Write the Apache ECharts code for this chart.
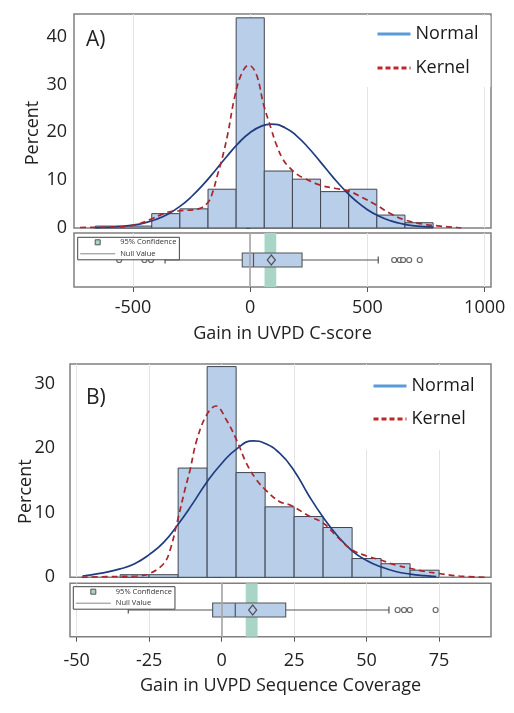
<!DOCTYPE html>
<html><head><meta charset="utf-8">
<script src="https://cdn.jsdelivr.net/npm/echarts@6/dist/echarts.min.js"></script>
<style>html,body{margin:0;padding:0;background:#fff}#c{width:514px;height:713px}</style>
</head><body><div id="c"></div>
<script>
// ---------- Panel A: Gain in UVPD C-score ----------
const binWidthA = 120;
const binCentersA = [-600, -480, -360, -240, -120, 0, 120, 240, 360, 480, 600, 720];
const percentA = [0.4, 0.4, 3.0, 4.0, 8.1, 43.9, 11.9, 10.2, 7.6, 8.1, 2.7, 1.1];
const normalXA = [-665, -600, -550, -500, -450, -400, -350, -300, -250, -200, -150, -100, -50, 0, 50, 90, 150, 200, 250, 300, 350, 400, 450, 500, 550, 600, 650, 700, 780];
const normalYA = [0.07, 0.16, 0.32, 0.59, 1.07, 1.82, 2.94, 4.51, 6.58, 9.10, 11.97, 14.94, 17.72, 19.96, 21.34, 21.7, 20.91, 19.15, 16.66, 13.76, 10.79, 8.04, 5.69, 3.82, 2.44, 1.48, 0.85, 0.46, 0.17];
const kernelXA = [-726, -600, -541, -480, -425, -380, -342, -299, -214, -178, -160, -140, -120, -96, -67, -38, -6, 26, 57, 90, 110, 140, 168, 200, 225, 296, 360, 417, 480, 538, 595, 659, 738, 809, 880, 900];
const kernelYA = [0.1, 0.2, 0.3, 0.8, 1.8, 2.8, 3.4, 3.6, 4.1, 5.5, 7.5, 11.0, 14.5, 19.6, 27.2, 32.1, 34.0, 32.1, 25.8, 20.6, 17.6, 14.3, 12.6, 11.2, 10.5, 9.0, 8.3, 7.8, 6.3, 4.8, 3.1, 1.7, 0.8, 0.4, 0.1, 0.0];
const boxA = [-363, -34, 14, 221, 546];   // whisker low, Q1, median, Q3, whisker high
const meanA = 90;
const ciA = [61, 111];
const outliersA = [-559, -451, -423, 614, 638, 652, 678, 723];
const ticksA = [-500, 0, 500, 1000];

// ---------- Panel B: Gain in UVPD Sequence Coverage ----------
const binWidthB = 10;
const binCentersB = [-30, -20, -10, 0, 10, 20, 30, 40, 50, 60, 70];
const percentB = [0.4, 0.4, 16.9, 32.6, 16.2, 10.9, 9.4, 7.7, 2.9, 2.1, 1.1];
const normalXB = [-48, -42, -35, -30, -25, -20, -15, -10, -5, 0, 5, 10.9, 15, 20, 25, 30, 35, 40, 45, 50, 55, 60, 65, 70, 74];
const normalYB = [0.2, 0.6, 1.3, 2.1, 3.5, 5.4, 8.2, 11.4, 14.8, 17.6, 19.8, 21.1, 20.7, 19.2, 16.5, 12.7, 9.3, 6.4, 4.1, 2.6, 1.6, 0.9, 0.5, 0.25, 0.12];
const kernelXB = [-48.3, -40, -29.3, -25, -20, -17.8, -15.3, -12.7, -10.9, -8.6, -5.2, -2, 1.7, 5.2, 8.6, 12, 15.2, 20, 23.6, 30.5, 35, 40, 44.8, 50, 54.6, 60, 64.9, 70, 74.7, 82, 91.4];
const kernelYB = [0.0, 0.1, 0.2, 0.55, 2.1, 4.2, 8.6, 13.5, 16.6, 21.2, 25.1, 26.5, 24.3, 21.2, 17.6, 15.1, 13.5, 11.7, 11.2, 9.4, 8.4, 6.2, 4.3, 3.3, 2.7, 1.9, 1.4, 0.9, 0.6, 0.2, 0.0];
const boxB = [-32.2, -3.1, 4.7, 22.1, 57.7];
const meanB = 10.7;
const ciB = [8.3, 12.4];
const outliersB = [60.7, 62.9, 64.9, 73.8];
const ticksB = [-50, -25, 0, 25, 50, 75];

// ---------- styling ----------
const FONT = 'Open Sans';
const BAR_FILL = '#b9cee8';
const BAR_STROKE = '#3f4552';
const NORMAL_C = '#1f3c80';
const KERNEL_C = '#a8262c';
const FRAME_C = '#808080';
const GRID_C = '#e4e4e4';
const CI_C = '#a9d5c6';
const NULL_C = '#a6a6a6';

function histItem(w) {
  return function (params, api) {
    const c = api.value(0), v = api.value(1);
    const a = api.coord([c - w / 2, v]);
    const b = api.coord([c + w / 2, 0]);
    return { type: 'rect', shape: { x: a[0], y: a[1], width: b[0] - a[0], height: b[1] - a[1] },
      style: { fill: BAR_FILL, stroke: BAR_STROKE, lineWidth: 1 } };
  };
}
function boxItem(params, api) {
  const p = i => api.coord([api.value(i), 0]);
  const lo = p(0), q1 = p(1), md = p(2), q3 = p(3), hi = p(4);
  const cy = lo[1], h = 14, cap = 7;
  const ls = { stroke: '#555', lineWidth: 1.2 };
  return { type: 'group', children: [
    { type: 'line', shape: { x1: lo[0], y1: cy, x2: q1[0], y2: cy }, style: ls },
    { type: 'line', shape: { x1: q3[0], y1: cy, x2: hi[0], y2: cy }, style: ls },
    { type: 'line', shape: { x1: lo[0], y1: cy - cap / 2, x2: lo[0], y2: cy + cap / 2 }, style: ls },
    { type: 'line', shape: { x1: hi[0], y1: cy - cap / 2, x2: hi[0], y2: cy + cap / 2 }, style: ls },
    { type: 'rect', shape: { x: q1[0], y: cy - h / 2, width: q3[0] - q1[0], height: h }, style: { fill: BAR_FILL, stroke: '#555', lineWidth: 1.1 } },
    { type: 'line', shape: { x1: md[0], y1: cy - h / 2, x2: md[0], y2: cy + h / 2 }, style: ls }
  ] };
}
function ciItem(params, api) {
  const a = api.coord([api.value(0), 0]), b = api.coord([api.value(1), 0]);
  const cs = params.coordSys;
  return { type: 'rect', shape: { x: a[0], y: cs.y, width: b[0] - a[0], height: cs.height }, style: { fill: CI_C } };
}
const zip = (xs, ys) => xs.map((x, i) => [x, ys[i]]);

function histXAxis(idx, min, max, ticks) {
  return { type: 'value', gridIndex: idx, min: min, max: max,
    axisLine: { show: false }, axisLabel: { show: false },
    axisTick: { show: false, customValues: ticks },
    splitLine: { show: true, lineStyle: { color: GRID_C, width: 1 } } };
}
function boxXAxis(idx, min, max, ticks, name, margin, gap) {
  return { type: 'value', gridIndex: idx, min: min, max: max,
    name: name, nameLocation: 'middle', nameGap: gap, nameMoveOverlap: false,
    nameTextStyle: { fontFamily: FONT, fontSize: 18, color: '#222' },
    axisLine: { show: false },
    axisTick: { show: true, inside: false, length: 5, customValues: ticks, lineStyle: { color: '#555' } },
    axisLabel: { customValues: ticks, margin: margin, fontFamily: FONT, fontSize: 18, color: '#222',
      formatter: v => String(v) },
    splitLine: { show: true, lineStyle: { color: GRID_C, width: 1 } } };
}
function histYAxis(idx, max, tickLen, margin, gap, pad) {
  return { type: 'value', gridIndex: idx, min: 0, max: max, interval: 10,
    name: 'Percent', nameLocation: 'middle', nameGap: gap, nameRotate: 90, nameMoveOverlap: false,
    nameTextStyle: { fontFamily: FONT, fontSize: 18, color: '#222', padding: pad },
    axisLine: { show: false }, splitLine: { show: false },
    axisTick: { show: true, length: tickLen, lineStyle: { color: '#555' } },
    axisLabel: { margin: margin, fontFamily: FONT, fontSize: 18, color: '#222',
      showMaxLabel: false, formatter: v => String(v) } };
}
function boxYAxis(idx) {
  return { type: 'category', gridIndex: idx, data: ['box'], show: false };
}
const HIDE_SYM = { opacity: 0 };
function mainLegend(left, top, gap, pad) {
  return { orient: 'vertical', left: left, top: top, itemGap: gap, padding: pad,
    itemWidth: 33, itemHeight: 14, backgroundColor: '#fff',
    textStyle: { fontFamily: FONT, fontSize: 18, color: '#1a1a1a' },
    data: [
      { name: 'Normal', itemStyle: HIDE_SYM, lineStyle: { color: '#5b9bd5', width: 3, type: 'solid' } },
      { name: 'Kernel', itemStyle: HIDE_SYM, lineStyle: { color: '#c0272d', width: 3, type: [5, 3] } }
    ] };
}
function boxLegend(left, top) {
  return { orient: 'vertical', left: left, top: top, itemGap: 3.5, padding: [1, 3, 2, 2],
    itemWidth: 35, itemHeight: 5, backgroundColor: '#fff', borderColor: '#444', borderWidth: 1,
    textStyle: { fontFamily: FONT, fontSize: 7.5, color: '#333' },
    data: [
      { name: '95% Confidence', icon: 'path://M0,0H10V10H0Z', itemStyle: { color: CI_C, borderColor: '#555', borderWidth: 1 } },
      { name: 'Null Value', itemStyle: HIDE_SYM, lineStyle: { color: '#888', width: 1 } }
    ] };
}
function panelSeries(h, b, binW, centers, pct, nX, nY, kX, kY, box, mean, ci, outs) {
  return [
    { type: 'custom', name: 'Histogram', xAxisIndex: h, yAxisIndex: h, renderItem: histItem(binW),
      data: zip(centers, pct), encode: { x: 0, y: 1 } },
    { type: 'line', name: 'Normal', xAxisIndex: h, yAxisIndex: h, data: zip(nX, nY), smooth: true,
      symbol: 'none', lineStyle: { color: NORMAL_C, width: 1.7 }, itemStyle: { color: NORMAL_C } },
    { type: 'line', name: 'Kernel', xAxisIndex: h, yAxisIndex: h, data: zip(kX, kY), smooth: 0.4,
      symbol: 'none', lineStyle: { color: KERNEL_C, width: 1.7, type: [6, 4] }, itemStyle: { color: KERNEL_C } },
    { type: 'custom', name: '95% Confidence', xAxisIndex: b, yAxisIndex: b, renderItem: ciItem,
      data: [ci], encode: { x: [0, 1] }, itemStyle: { color: CI_C } },
    { type: 'line', name: 'Null Value', xAxisIndex: b, yAxisIndex: b, data: [], symbol: 'none',
      lineStyle: { color: NULL_C, width: 1 }, itemStyle: { color: NULL_C },
      markLine: { silent: true, symbol: 'none', label: { show: false },
        lineStyle: { color: NULL_C, width: 1.6, type: 'solid' }, data: [{ xAxis: 0 }] } },
    { type: 'custom', name: 'Box', xAxisIndex: b, yAxisIndex: b, renderItem: boxItem,
      data: [box], encode: { x: [0, 1, 2, 3, 4] } },
    { type: 'scatter', name: 'Mean', xAxisIndex: b, yAxisIndex: b, data: [[mean, 0]],
      symbol: 'diamond', symbolSize: [8, 10],
      itemStyle: { color: BAR_FILL, borderColor: '#333', borderWidth: 1.3 } },
    { type: 'scatter', name: 'Outliers', xAxisIndex: b, yAxisIndex: b, data: outs.map(v => [v, 0]),
      symbol: 'circle', symbolSize: 5,
      itemStyle: { color: '#fff', borderColor: '#444', borderWidth: 1.2 } }
  ];
}

const chart = echarts.init(document.getElementById('c'), null, { renderer: 'canvas' });
chart.setOption({
  animation: false,
  backgroundColor: '#fff',
  textStyle: { fontFamily: FONT },
  title: [
    { text: 'A)', left: 86, top: 30, padding: 0, textStyle: { fontFamily: FONT, fontSize: 21, fontWeight: 'normal', color: '#222' } },
    { text: 'B)', left: 86, top: 388, padding: 0, textStyle: { fontFamily: FONT, fontSize: 21, fontWeight: 'normal', color: '#222' } }
  ],
  grid: [
    { left: 74, top: 14, width: 417, height: 214, show: true, borderColor: FRAME_C, borderWidth: 1.5, outerBoundsMode: 'none' },
    { left: 74, top: 233, width: 417, height: 54, show: true, borderColor: FRAME_C, borderWidth: 1.5, outerBoundsMode: 'none' },
    { left: 70, top: 364, width: 421, height: 213.3, show: true, borderColor: FRAME_C, borderWidth: 1.5, outerBoundsMode: 'none' },
    { left: 70, top: 583.3, width: 421, height: 53.4, show: true, borderColor: FRAME_C, borderWidth: 1.5, outerBoundsMode: 'none' }
  ],
  xAxis: [
    histXAxis(0, -751.6, 1026.9, ticksA),
    boxXAxis(1, -751.6, 1026.9, ticksA, 'Gain in UVPD C-score', 12, 38),
    histXAxis(2, -52.3, 92.9, ticksB),
    boxXAxis(3, -52.3, 92.9, ticksB, 'Gain in UVPD Sequence Coverage', 15, 40)
  ],
  yAxis: [
    histYAxis(0, 44.7, 4, 7, 32, [0, 24, 0, 0]),
    boxYAxis(1),
    histYAxis(2, 33.0, 8, 15, 35.5, [0, 42, 0, 0]),
    boxYAxis(3)
  ],
  legend: [
    mainLegend(364, 16, 16, [9, 12, 10, 12]),
    mainLegend(361, 366, 15, [11, 12, 22, 11]),
    boxLegend(77.7, 237.3),
    boxLegend(73.3, 586.7)
  ],
  series: [].concat(
    panelSeries(0, 1, binWidthA, binCentersA, percentA, normalXA, normalYA, kernelXA, kernelYA, boxA, meanA, ciA, outliersA),
    panelSeries(2, 3, binWidthB, binCentersB, percentB, normalXB, normalYB, kernelXB, kernelYB, boxB, meanB, ciB, outliersB)
  )
});
</script></body></html>
